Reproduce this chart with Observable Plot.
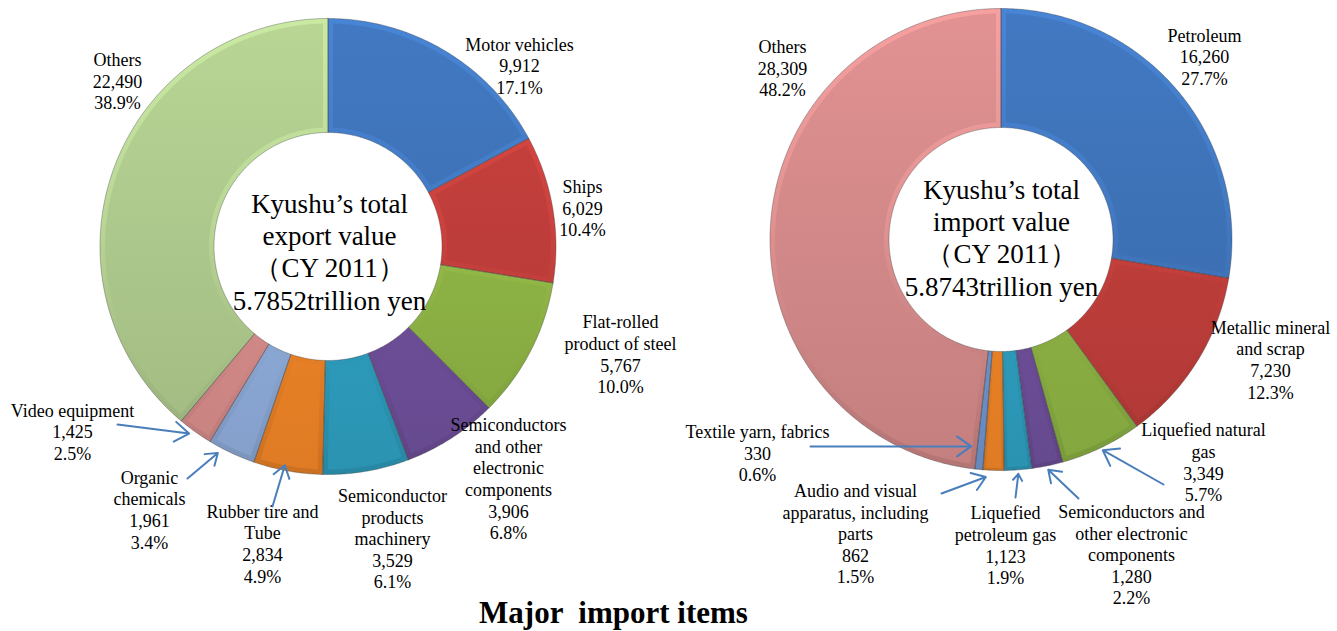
<!DOCTYPE html>
<html><head><meta charset="utf-8">
<script src="https://cdn.jsdelivr.net/npm/d3@7"></script>
<script src="https://cdn.jsdelivr.net/npm/@observablehq/plot@0.6"></script>
<style>
body{margin:0;background:#fff;}
#chart{position:relative;width:1337px;height:631px;}
#chart svg{position:absolute;left:0;top:0;display:block;}
</style></head><body><div id="chart"></div>
<script>
// ---------- data ----------
const exportItems = ["Motor vehicles","Ships","Flat-rolled\nproduct of steel","Semiconductors\nand other\nelectronic\ncomponents","Semiconductor\nproducts\nmachinery","Rubber tire and\nTube","Organic\nchemicals","Video equipment","Others"];
const exportValues = [9912,6029,5767,3906,3529,2834,1961,1425,22490];
const importItems = ["Petroleum","Metallic mineral\nand scrap","Liquefied natural\ngas","Semiconductors and\nother electronic\ncomponents","Liquefied\npetroleum gas","Audio and visual\napparatus, including\nparts","Textile yarn, fabrics","Others"];
const importValues = [16260,7230,3349,1280,1123,862,330,28309];
const exportCenterText = ["Kyushu’s total","export value","（CY 2011）","5.7852trillion yen"];
const importCenterText = ["Kyushu’s total","import value","（CY 2011）","5.8743trillion yen"];
const chartTitle = "Major  import items";

// ---------- style / layout ----------
const exportColors = ["#3d71b5","#bd3d3a","#8db244","#6e4f9a","#2e9ebf","#ee8427","#8eabd9","#d68c8a","#acc78b"];
const importColors = ["#3d71b5","#bd3d3a","#8db244","#6e4f9a","#2e9ebf","#ee8427","#6f93cc","#d28888"];
const exportGeom = {cx:327.5, cy:246, R:228, r:114};
const importGeom = {cx:1000.5, cy:239, R:231, r:112};
const exportLabelPos = [[519,66],[582,208.5],[620,354.5],[508,479],[392,539],[262,544],[149,510],[72,432],[117,81.5]];
const importLabelPos = [[1204,57],[1270,360],[1203,462.5],[1131,555],[1005,545.5],[855,534],[757,453.5],[782,68.5]];
const exportCenterPos = [329,252];
const importCenterPos = [1001,238];
const titlePos = [613,613];
// arrows: [slice index, tail x, tail y, tip angle offset (deg), tip radius offset]
const exportArrows = [[7,117,424,1,5],[6,187,478,3,6],[5,272,506,1,-5]];
const importArrows = [[6,810,446,2.7,-22],[5,941,493,1.8,7],[4,1015,497,0,4],[3,1078,498,0,4],[2,1163,484,0,3]];
const labelLine = 21.6, centerLine = 32.4;

const W = 1337, H = 631;
const fmtN = d3.format(","), fmtP = d3.format(".1%");

const polys = [], outlines = [], labels = [], arrows = [], centers = [], grads = [];

function arcPts(a0, a1, ro, ri, cx, cy) {
  const pts = [];
  const n = Math.max(2, Math.ceil((a1 - a0) / (Math.PI / 360)));
  for (let i = 0; i <= n; i++) { const t = a0 + (a1 - a0) * i / n; pts.push([cx + ro * Math.sin(t), cy - ro * Math.cos(t)]); }
  for (let i = n; i >= 0; i--) { const t = a0 + (a1 - a0) * i / n; pts.push([cx + ri * Math.sin(t), cy - ri * Math.cos(t)]); }
  return pts;
}
function pushLines(arr, x, yc, lines, lh) {
  lines.forEach((t, j) => arr.push({x, y: yc + (j - (lines.length - 1) / 2) * lh, text: t}));
}

function donut(prefix, names, values, colors, g, labelPos, arrowSpec, centerText, centerPos) {
  const {cx, cy, R, r} = g;
  const total = d3.sum(values);
  const arcs = d3.pie().sort(null).value(d => d)(values);
  arcs.forEach((a, i) => {
    const base = d3.color(colors[i]);
    grads.push({id: `${prefix}b${i}`, y1: cy - R, y2: cy + R, stops: [[0, base.brighter(0.2)], [0.5, base], [1, base.darker(0.2)]]});
    grads.push({id: `${prefix}r${i}`, y1: cy - R, y2: cy + R, stops: [[0, base.brighter(0.45)], [0.45, base.brighter(0.2)], [1, base.darker(0.45)]]});
    const a0 = a.startAngle, a1 = a.endAngle;
    arcPts(a0, a1, R, r, cx, cy).forEach(([x, y]) => polys.push({k: `${prefix}${i}r`, x, y, f: `url(#${prefix}r${i})`}));
    const e = Math.min(5, (a1 - a0) * r / 4);
    const ro = R - e, ri = r + e;
    const n = Math.max(2, Math.ceil((a1 - a0) / (Math.PI / 360)));
    const body = [];
    for (let j = 0; j <= n; j++) { const t = a0 + e / ro + (a1 - a0 - 2 * e / ro) * j / n; body.push([cx + ro * Math.sin(t), cy - ro * Math.cos(t)]); }
    for (let j = n; j >= 0; j--) { const t = a0 + e / ri + (a1 - a0 - 2 * e / ri) * j / n; body.push([cx + ri * Math.sin(t), cy - ri * Math.cos(t)]); }
    body.forEach(([x, y]) => polys.push({k: `${prefix}${i}b`, x, y, f: `url(#${prefix}b${i})`}));
    const ol = arcPts(a0, a1, R, r, cx, cy); ol.push(ol[0]);
    ol.forEach(([x, y]) => outlines.push({k: `${prefix}${i}`, x, y}));
    pushLines(labels, labelPos[i][0], labelPos[i][1], [...names[i].split("\n"), fmtN(values[i]), fmtP(values[i] / total)], labelLine);
  });
  arrowSpec.forEach(([i, tx, ty, da, dr]) => {
    const a = arcs[i];
    const t = (a.startAngle + a.endAngle) / 2 + da * Math.PI / 180;
    const rr = R + dr;
    arrows.push({x1: tx, y1: ty, x2: cx + rr * Math.sin(t), y2: cy - rr * Math.cos(t)});
  });
  pushLines(centers, centerPos[0], centerPos[1], centerText, centerLine);
}

donut("e", exportItems, exportValues, exportColors, exportGeom, exportLabelPos, exportArrows, exportCenterText, exportCenterPos);
donut("i", importItems, importValues, importColors, importGeom, importLabelPos, importArrows, importCenterText, importCenterPos);

const frame = {
  width: W, height: H, margin: 0,
  x: {domain: [0, W], range: [0, W], axis: null},
  y: {domain: [0, H], range: [0, H], axis: null}
};

// layer 1: donut slices
const donutSvg = Plot.plot({
  ...frame,
  color: {type: "identity"},
  style: {background: "#fff"},
  marks: [
    Plot.line(polys, {x: "x", y: "y", z: "k", fill: "f", stroke: "none"}),
    Plot.line(outlines, {x: "x", y: "y", z: "k", stroke: "#3a3a3a", strokeOpacity: 0.45, strokeWidth: 0.8})
  ]
});
const ns = "http://www.w3.org/2000/svg";
const defs = document.createElementNS(ns, "defs");
grads.forEach(g => {
  const lg = document.createElementNS(ns, "linearGradient");
  lg.setAttribute("id", g.id);
  lg.setAttribute("gradientUnits", "userSpaceOnUse");
  lg.setAttribute("x1", 0); lg.setAttribute("x2", 0);
  lg.setAttribute("y1", g.y1); lg.setAttribute("y2", g.y2);
  g.stops.forEach(([o, c]) => {
    const s = document.createElementNS(ns, "stop");
    s.setAttribute("offset", o);
    s.setAttribute("stop-color", c.formatHex());
    lg.appendChild(s);
  });
  defs.appendChild(lg);
});
donutSvg.appendChild(defs);

// layer 2: texts (one mark per text line) and arrows
const fam = "Liberation Serif";
const oneText = (d, size, weight) => Plot.text([d], {x: () => d.x, y: () => d.y, text: () => d.text, fontSize: size, fontWeight: weight, fontFamily: fam, fill: "#000", textAnchor: "middle"});
const textSvg = Plot.plot({
  ...frame,
  style: {background: "transparent"},
  marks: [
    ...centers.map(d => oneText(d, 27, "normal")),
    ...labels.map(d => oneText(d, 18, "normal")),
    oneText({x: titlePos[0], y: titlePos[1], text: chartTitle}, 31, "bold"),
    Plot.arrow(arrows, {x1: "x1", y1: "y1", x2: "x2", y2: "y2", stroke: "#4a7ebb", strokeWidth: 2, headLength: 13, headAngle: 70, insetStart: 0, insetEnd: 0})
  ]
});

const host = document.getElementById("chart");
host.appendChild(donutSvg);
host.appendChild(textSvg);
</script></body></html>
